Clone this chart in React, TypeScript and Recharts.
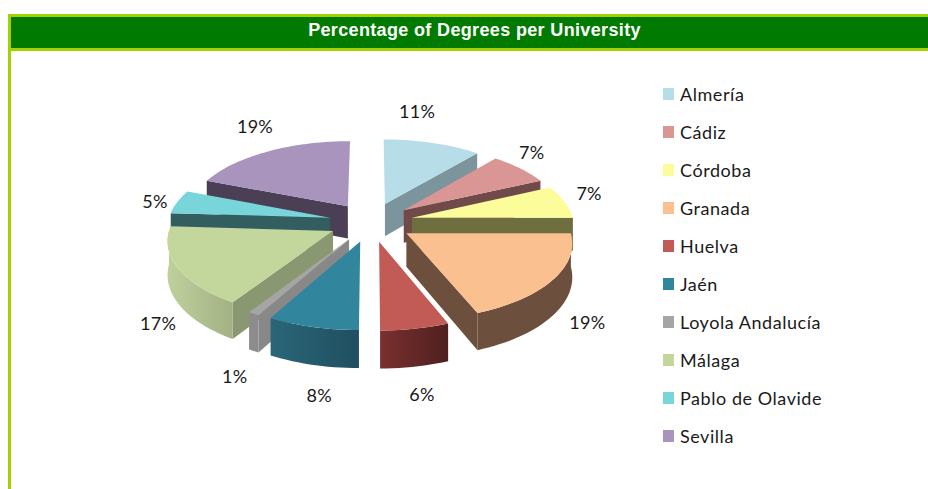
import React from 'react';
import { PieChart, Pie, Legend } from 'recharts';

const universities = ['Almería', 'Cádiz', 'Córdoba', 'Granada', 'Huelva', 'Jaén', 'Loyola Andalucía', 'Málaga', 'Pablo de Olavide', 'Sevilla'];
const shares = [11, 7, 7, 19, 6, 8, 1, 17, 5, 19];
const topColors = ['#B7DDE8', '#D99694', '#FDFC9A', '#FAC090', '#C25B56', '#31859C', '#A5A5A5', '#C3D69B', '#78D5D9', '#A894BD'];
const edgeColors = ['#7C959C', '#6F4A49', '#6E6E41', '#6C503D', '#6B2C2B', '#296575', '#888888', '#8A9871', '#335E60', '#4A3F54'];
const arcLeftColors = ['#7C959C', '#6F4A49', '#6E6E41', '#6C503D', '#7A302F', '#2A6678', '#8C8C8C', '#C0D09C', '#335E60', '#4A3F54'];
const arcRightColors = ['#7C959C', '#6F4A49', '#6E6E41', '#6C503D', '#4F1F1F', '#1F4F60', '#8C8C8C', '#A3B184', '#335E60', '#4A3F54'];
const labelNudgeX = [-24, -10, -5, 3, -1, 17, 2, 13, 7, 2];
const labelNudgeY = [-22, -9, -6, -6, 5, 8, 6, 10, 2, -17];

const rows = universities.map((name, i) => ({ name, value: shares[i] }));
const rowsReversed = [...rows].reverse();

const FONT = 'Lato, Carlito, sans-serif';
const EXPLODE = 0.26;
const SCALE_X = 162;
const LABEL_SCALE_X = 164;
const SCALE_Z = 75;
const PERSPECTIVE = 0.105;
const THICKNESS = 33;
const LABEL_DROP = 36;
const rad = (d: number) => (d * Math.PI) / 180;

type P = { x: number; y: number };

function makeShape(firstIndex: number, lastIndex: number) {
  return function SliceShape(props: any) {
    const name = props.payload?.name ?? props.name;
    const idx = universities.indexOf(name);
    if (idx < firstIndex || idx > lastIndex) return <g />;
    const { cx, cy, startAngle, endAngle } = props;
    const t1 = endAngle > startAngle ? 450 - endAngle : 90 - startAngle;
    const t2 = endAngle > startAngle ? 450 - startAngle : 90 - endAngle;
    const mid = (t1 + t2) / 2;
    const oX = EXPLODE * Math.sin(rad(mid));
    const oZ = EXPLODE * Math.cos(rad(mid));
    const depth = (z: number) => 1 / (1 + PERSPECTIVE * z);
    const proj = (r: number, t: number, lower = false): P => {
      const X = oX + r * Math.sin(rad(t));
      const Z = oZ + r * Math.cos(rad(t));
      const s = depth(Z);
      return { x: cx + SCALE_X * X * s, y: cy - SCALE_Z * Z * s + (lower ? THICKNESS * s : 0) };
    };
    const arc = (a: number, b: number, lower = false) => {
      const pts: P[] = [];
      const n = Math.max(2, Math.ceil((b - a) / 2));
      for (let i = 0; i <= n; i++) pts.push(proj(1, a + ((b - a) * i) / n, lower));
      return pts;
    };
    const d = (pts: P[]) => 'M' + pts.map((p) => `${p.x.toFixed(2)},${p.y.toFixed(2)}`).join('L') + 'Z';
    const gradId = `wall-${idx}`;

    const top = d([proj(0, 0), ...arc(t1, t2)]);
    const walls: React.ReactNode[] = [];
    if (t2 < 180) {
      walls.push(<path key="end" d={d([proj(0, 0), proj(1, t2), proj(1, t2, true), proj(0, 0, true)])} fill={edgeColors[idx]} />);
    }
    if (t1 > 180) {
      walls.push(<path key="start" d={d([proj(0, 0), proj(1, t1), proj(1, t1, true), proj(0, 0, true)])} fill={edgeColors[idx]} />);
    }
    const a = Math.max(t1, 90);
    const b = Math.min(t2, 270);
    if (b > a) {
      walls.push(<path key="arc" d={d([...arc(a, b), ...arc(a, b, true).reverse()])} fill={`url(#${gradId})`} />);
    }

    const lx = EXPLODE + 1.18;
    const LX = lx * Math.sin(rad(mid));
    const LZ = lx * Math.cos(rad(mid));
    const ls = depth(LZ);
    const labelX = cx + LABEL_SCALE_X * LX * ls + labelNudgeX[idx];
    const labelY = cy - SCALE_Z * LZ * ls + (LZ < 0 ? LABEL_DROP * ls : 0) + labelNudgeY[idx];

    return (
      <g>
        <defs>
          <linearGradient id={gradId} x1="0" y1="0" x2="1" y2="0">
            <stop offset="0" stopColor={arcLeftColors[idx]} />
            <stop offset="1" stopColor={arcRightColors[idx]} />
          </linearGradient>
        </defs>
        {walls}
        <path d={top} fill={topColors[idx]} />
        <text x={labelX} y={labelY} textAnchor="middle" dominantBaseline="central" fontFamily={FONT} fontSize={18} letterSpacing={0.3} fill="#1a1a1a">
          {`${shares[idx]}%`}
        </text>
      </g>
    );
  };
}

const LegendList = () => (
  <div style={{ position: 'relative', width: 928, height: 489 }}>
    {universities.map((name, i) => (
      <div key={name} style={{ position: 'absolute', left: 663, top: 94 + 38 * i - 15, height: 30, display: 'flex', alignItems: 'center', whiteSpace: 'nowrap' }}>
        <span style={{ display: 'inline-block', width: 11, height: 12, background: topColors[i], marginRight: 6 }} />
        <span style={{ fontFamily: FONT, fontSize: 18, letterSpacing: 0.55, color: '#1a1a1a' }}>{name}</span>
      </div>
    ))}
  </div>
);

export default function App() {
  return (
    <div style={{ position: 'absolute', left: 0, top: 0, width: 928, height: 489, overflow: 'hidden', background: '#fff' }}>
      <div style={{ position: 'absolute', left: 11, top: 14, width: 907, height: 31, paddingLeft: 10, borderTop: '3px solid #A2D200', borderBottom: '3px solid #A2D200', background: '#007A00', color: '#fff', fontFamily: '"Liberation Sans", Arial, sans-serif', fontWeight: 700, fontSize: 18, letterSpacing: 0.35, lineHeight: '27px', textAlign: 'center', boxSizing: 'content-box' }}>
        Percentage of Degrees per University
      </div>
      <div style={{ position: 'absolute', left: 8, top: 14, width: 3, height: 475, background: '#A2D200' }} />
      <div style={{ position: 'absolute', left: 0, top: 0 }}>
        <PieChart width={928} height={489} margin={{ top: 0, right: 0, bottom: 0, left: 0 }}>
          <Pie data={rowsReversed} dataKey="value" nameKey="name" cx={371} cy={222} outerRadius={100} startAngle={90} endAngle={450} isAnimationActive={false} stroke="none" legendType="none" shape={makeShape(5, 9)} />
          <Pie data={rows} dataKey="value" nameKey="name" cx={371} cy={222} outerRadius={100} startAngle={90} endAngle={-270} isAnimationActive={false} stroke="none" legendType="none" shape={makeShape(0, 4)} />
          <Legend content={LegendList} wrapperStyle={{ left: 0, top: 0, width: 928, height: 489, position: 'absolute', pointerEvents: 'none' }} />
        </PieChart>
      </div>
    </div>
  );
}
